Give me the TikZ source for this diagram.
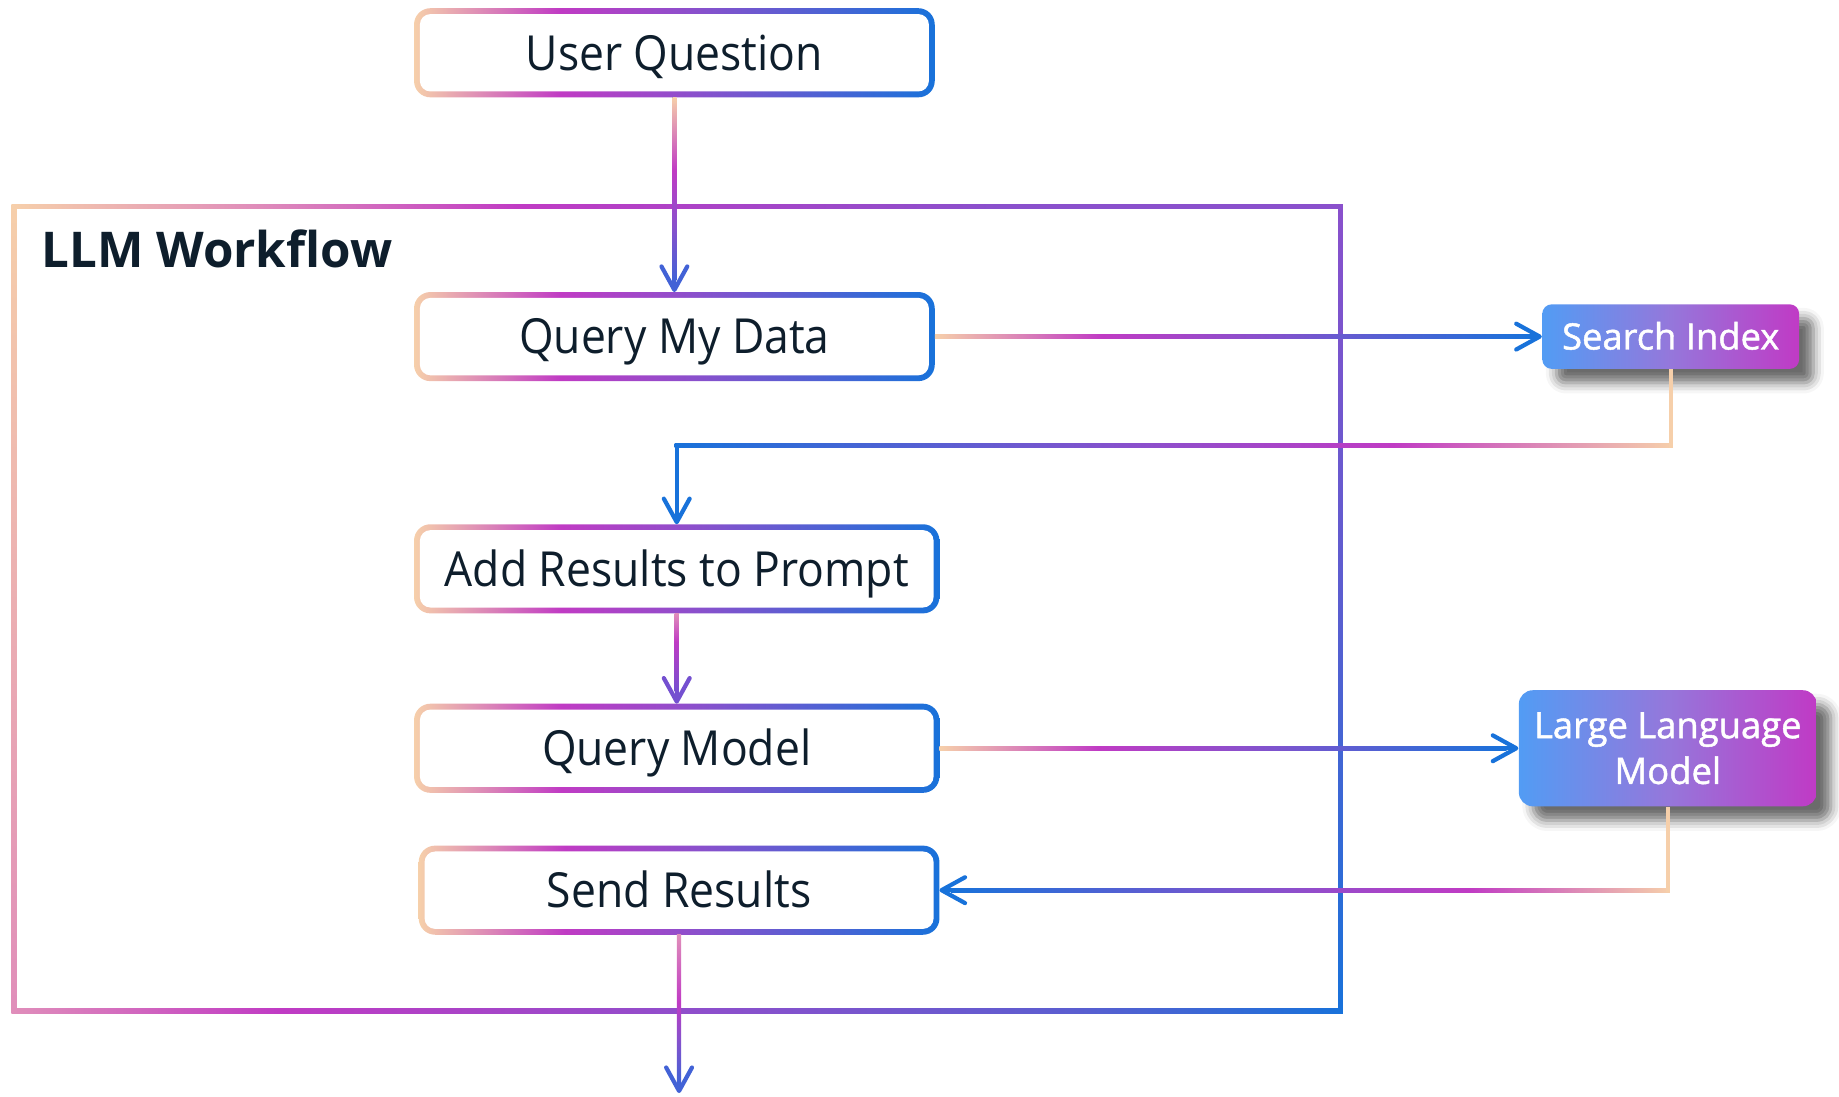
\documentclass[tikz,border=0pt]{standalone}
\usepackage{fontspec}
\setmainfont{Open Sans}
\newfontfamily\boxfont{Open Sans}[FakeStretch=0.92]
\newfontfamily\whitefont{Open Sans}[FakeBold=1.3]
\usetikzlibrary{arrows.meta,shadows.blur,backgrounds,calc}
\definecolor{cpeach}{HTML}{F6CFAA}
\definecolor{cpink}{HTML}{E08EBA}
\definecolor{cmag}{HTML}{C03BC4}
\definecolor{cpurp}{HTML}{8A50CC}
\definecolor{cviol}{HTML}{5A5ED0}
\definecolor{cvb}{HTML}{4262D6}
\definecolor{cvp}{HTML}{7450D0}
\definecolor{cblue}{HTML}{1872DA}
\definecolor{ctext}{HTML}{0E1E2C}
\definecolor{nleft}{HTML}{529CF4}
\definecolor{nmid}{HTML}{9577DB}
\definecolor{nright}{HTML}{C03AC5}
\pgfdeclarehorizontalshading{hgrad}{100bp}{color(0bp)=(cpeach); color(25bp)=(cpeach); color(39bp)=(cmag); color(52bp)=(cpurp); color(75bp)=(cblue); color(100bp)=(cblue)}
\pgfdeclarehorizontalshading{hgradrev}{100bp}{color(0bp)=(cblue); color(25bp)=(cblue); color(48bp)=(cpurp); color(61bp)=(cmag); color(75bp)=(cpeach); color(100bp)=(cpeach)}
\pgfdeclareverticalshading{vgA}{100bp}{color(0bp)=(cvb); color(25bp)=(cvb); color(40bp)=(cpurp); color(55bp)=(cmag); color(75bp)=(cpeach); color(100bp)=(cpeach)}
\pgfdeclareverticalshading{vgB}{100bp}{color(0bp)=(cvp); color(25bp)=(cvp); color(57bp)=(cmag); color(75bp)=(cpink); color(100bp)=(cpink)}
\pgfdeclareverticalshading{vgC}{100bp}{color(0bp)=(cvb); color(25bp)=(cvb); color(40bp)=(cpurp); color(52bp)=(cmag); color(75bp)=(cpink); color(100bp)=(cpink)}
\pgfdeclarehorizontalshading{fTop}{100bp}{color(0bp)=(cpeach); color(25bp)=(cpeach); color(34bp)=(cpink); color(44bp)=(cmag); color(62bp)=(cpurp); color(75bp)=(cpurp); color(100bp)=(cpurp)}
\pgfdeclareverticalshading{fRight}{100bp}{color(0bp)=(cblue); color(25bp)=(cblue); color(50bp)=(cviol); color(75bp)=(cpurp); color(100bp)=(cpurp)}
\pgfdeclarehorizontalshading{fBottom}{100bp}{color(0bp)=(cpink); color(25bp)=(cpink); color(35bp)=(cmag); color(52bp)=(cpurp); color(65bp)=(cviol); color(75bp)=(cblue); color(100bp)=(cblue)}
\pgfdeclareverticalshading{fLeft}{100bp}{color(0bp)=(cpink); color(25bp)=(cpink); color(75bp)=(cpeach); color(100bp)=(cpeach)}
\newcommand\gradoutline[1]{\shade[shading=hgrad, rounded corners=7pt] (#1.south west) rectangle (#1.north east);}
\begin{document}
\begin{tikzpicture}[x=0.5pt,y=-0.5pt,
  stepbox/.style={rounded corners=4.5pt, fill=white, minimum width=#1, minimum height=33pt, inner sep=0pt, outer sep=2.5pt, font=\boxfont\fontsize{20.6}{24}\selectfont, text height=14.7pt, text depth=0pt, text=ctext},
  gnode/.style={rounded corners=#1, left color=nleft, right color=nright, middle color=nmid, draw=none, text=white, font=\whitefont\fontsize{15.5}{19.5}\selectfont, align=center, inner sep=0pt, blur shadow={shadow xshift=6pt, shadow yshift=-6pt, shadow opacity=58, shadow blur radius=4.5pt}},
  conn/.style={line width=1.8pt, -{Straight Barb[length=10pt,width=11pt,line cap=round,line join=round]}},
  ]
\useasboundingbox (0,0) rectangle (1568,934.5);
% nodes
\node[stepbox=217pt] (uq) at (575,45) {User Question};
\node[stepbox=217pt] (qmd) at (575,287) {Query My Data};
\node[stepbox=219pt] (arp) at (577,485) {Add Results to Prompt};
\node[stepbox=219pt] (qm) at (577,638) {Query Model};
\node[stepbox=217pt] (sr) at (579,759) {Send Results};
\node[gnode=4pt, minimum width=109.5pt, minimum height=27.5pt, text height=11pt, text depth=0pt] (si) at (1424.5,287) {Search Index};
\node[gnode=6pt, minimum width=127pt, minimum height=49.5pt] (llm) at (1422,638) {Large Language\\Model};
\node[anchor=base west, inner sep=0pt, font=\bfseries\fontsize{21}{24}\selectfont, text=ctext] (title) at (35,228) {LLM Workflow};
% frame and outlines
\begin{pgfonlayer}{background}
\shade[shading=fLeft] (10,174) rectangle (14,864);
\shade[shading=fRight] (1141,174) rectangle (1145,864);
\shade[shading=fTop] (10,174) rectangle (1145,178);
\shade[shading=fBottom] (10,860) rectangle (1145,864);
\gradoutline{uq}
\gradoutline{qmd}
\gradoutline{arp}
\gradoutline{qm}
\gradoutline{sr}
\end{pgfonlayer}
% connectors
\draw[conn, color=cvb] (uq.south) -- (qmd.north);
\shade[shading=vgA] ($(uq.south)+(-1.8,0)$) rectangle ($(qmd.north)+(1.8,-10)$);
\draw[conn, color=cblue] (qmd.east) -- (si.west);
\shade[shading=hgrad] ($(qmd.east)+(0,-1.8)$) rectangle ($(si.west)+(-10,1.8)$);
\coordinate (ya) at (0,380);
\draw[conn, color=cblue] (si.south) -- (si.south |- ya) -- (arp.north |- ya) -- (arp.north);
\shade[shading=hgradrev] ($(arp.north |- ya)+(-1.8,-1.8)$) rectangle ($(si.south |- ya)+(1.8,1.8)$);
\fill[cpeach] ($(si.south)+(-1.8,0)$) rectangle ($(si.south |- ya)+(1.8,1.8)$);
\draw[conn, color=cvp] (arp.south) -- (qm.north);
\shade[shading=vgB] ($(arp.south)+(-1.8,0)$) rectangle ($(qm.north)+(1.8,-10)$);
\draw[conn, color=cblue] (qm.east) -- (llm.west);
\shade[shading=hgrad] ($(qm.east)+(0,-1.8)$) rectangle ($(llm.west)+(-10,1.8)$);
\draw[conn, color=cblue] (llm.south) |- (sr.east);
\shade[shading=hgradrev] ($(sr.east)+(10,-1.8)$) rectangle ($(llm.south |- sr.east)+(1.8,1.8)$);
\fill[cpeach] ($(llm.south)+(-1.8,0)$) rectangle ($(llm.south |- sr.east)+(1.8,1.8)$);
\coordinate (out) at (579,932);
\draw[conn, color=cvb] (sr.south) -- (out);
\shade[shading=vgC] ($(sr.south)+(-1.8,0)$) rectangle ($(out)+(1.8,-10)$);
\end{tikzpicture}
\end{document}
